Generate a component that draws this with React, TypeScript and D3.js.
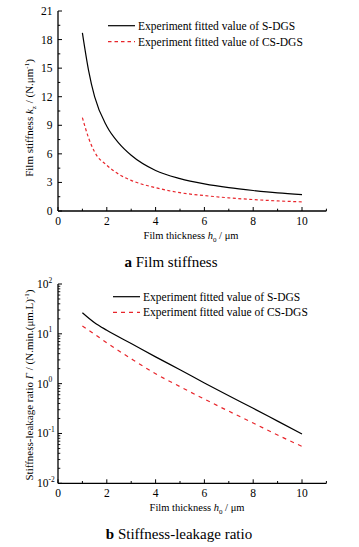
import React from "react";
import * as d3 from "d3";

// Data
const thickness = [1, 1.25, 1.5, 2, 2.5, 3, 4, 5, 6, 7, 8, 9, 10];
const stiffnessS = [18.7, 14.8, 12.0, 8.9, 7.1, 5.85, 4.25, 3.4, 2.85, 2.45, 2.15, 1.9, 1.72];
const stiffnessCS = [9.8, 7.7, 6.2, 4.8, 3.85, 3.22, 2.45, 1.92, 1.62, 1.38, 1.2, 1.06, 0.96];

const thicknessB = [1, 1.5, 2, 3, 4, 5, 6, 7, 8, 9, 10];
const ratioS = [26.5, 16.7, 11.8, 6.4, 3.45, 1.9, 1.03, 0.57, 0.32, 0.177, 0.098];
const ratioCS = [14.4, 9.8, 6.6, 3.16, 1.58, 0.87, 0.49, 0.28, 0.162, 0.093, 0.055];

const xTicks = [0, 2, 4, 6, 8, 10];
const xMinor = [1, 3, 5, 7, 9, 11];
const yTicksA = [0, 3, 6, 9, 12, 15, 18, 21];
const yMinorA = [1.5, 4.5, 7.5, 10.5, 13.5, 16.5, 19.5];
const yExpB = [-2, -1, 0, 1, 2];

const legendLabels = ["Experiment fitted value of S-DGS", "Experiment fitted value of CS-DGS"];

const FONT = "'Liberation Serif', 'Times New Roman', serif";
const RED = "#e8252b";

const left = 58;
const xMax = 11;
const xRight = left + (xMax * (302 - left)) / 10;

export default function App() {
  const x = d3.scaleLinear().domain([0, 10]).range([left, 302]);

  // Chart a
  const yA = d3.scaleLinear().domain([0, 21]).range([211, 11]);
  const lineA = (vals: number[]) =>
    d3
      .line<number>()
      .x((_, i) => x(thickness[i]))
      .y((d) => yA(d))
      .curve(d3.curveMonotoneX)(vals) as string;

  // Chart b
  const yB = d3.scaleLog().domain([0.01, 100]).range([483.3, 284]);
  const lineB = (vals: number[]) =>
    d3
      .line<number>()
      .x((_, i) => x(thicknessB[i]))
      .y((d) => yB(d))
      .curve(d3.curveMonotoneX)(vals) as string;

  const logMinor: number[] = [];
  for (let e = -2; e < 2; e++) for (let k = 2; k <= 9; k++) logMinor.push(k * Math.pow(10, e));

  const axisX = (y0: number, labelY: number) => (
    <g>
      <line x1={left} x2={xRight} y1={y0} y2={y0} stroke="#000" strokeWidth={1.3} />
      {xTicks.map((t) => (
        <g key={"M" + t}>
          <line x1={x(t)} x2={x(t)} y1={y0} y2={y0 - 4} stroke="#000" strokeWidth={1} />
          <text x={x(t)} y={labelY} textAnchor="middle" fontSize={11.5} fontFamily={FONT}>
            {t}
          </text>
        </g>
      ))}
      {xMinor.map((t) => (
        <line key={"m" + t} x1={x(t)} x2={x(t)} y1={y0} y2={y0 - 2.3} stroke="#000" strokeWidth={1} />
      ))}
    </g>
  );

  return (
    <svg
      width={359}
      height={547}
      style={{ position: "absolute", left: 0, top: 0, background: "#fff" }}
      fontFamily={FONT}
    >
      <rect width={359} height={547} fill="#fff" />
      {/* ---------- Chart a ---------- */}
      <line x1={left} x2={left} y1={yA(21)} y2={yA(0)} stroke="#000" strokeWidth={1.3} />
      {yTicksA.map((t) => (
        <g key={"ya" + t}>
          <line x1={left} x2={left + 4} y1={yA(t)} y2={yA(t)} stroke="#000" strokeWidth={1} />
          <text x={52.5} y={yA(t) + 4} textAnchor="end" fontSize={11.5}>
            {t}
          </text>
        </g>
      ))}
      {yMinorA.map((t) => (
        <line key={"yam" + t} x1={left} x2={left + 2.3} y1={yA(t)} y2={yA(t)} stroke="#000" strokeWidth={1} />
      ))}
      {axisX(211, 224.5)}
      <path d={lineA(stiffnessS)} fill="none" stroke="#000" strokeWidth={1.2} />
      <path d={lineA(stiffnessCS)} fill="none" stroke={RED} strokeWidth={1.2} strokeDasharray="3,2.5" />

      {/* legend a */}
      <line x1={108} x2={135} y1={25.7} y2={25.7} stroke="#000" strokeWidth={1.2} />
      <text x={138} y={29.5} fontSize={11.5}>{legendLabels[0]}</text>
      <line x1={108} x2={135} y1={41.7} y2={41.7} stroke={RED} strokeWidth={1.2} strokeDasharray="3.5,3" />
      <text x={138} y={45.5} fontSize={11.5}>{legendLabels[1]}</text>

      {/* axis titles a */}
      <text x={191} y={239} textAnchor="middle" fontSize={10.5}>
        Film thickness <tspan fontStyle="italic">h</tspan>
        <tspan fontSize={7} dy={2.5}>0</tspan>
        <tspan dy={-2.5}> / μm</tspan>
      </text>
      <text transform={`translate(33,${118}) rotate(-90)`} textAnchor="middle" fontSize={11}>
        Film stiffness <tspan fontStyle="italic">k</tspan>
        <tspan fontSize={7} dy={2.5}>z</tspan>
        <tspan dy={-2.5}> / (N.μm</tspan>
        <tspan fontSize={7} dy={-4}>-1</tspan>
        <tspan dy={4}>)</tspan>
      </text>
      <text x={171} y={267} textAnchor="middle" fontSize={15}>
        <tspan fontWeight="bold">a</tspan> Film stiffness
      </text>

      {/* ---------- Chart b ---------- */}
      <line x1={left} x2={left} y1={yB(100)} y2={yB(0.01)} stroke="#000" strokeWidth={1.3} />
      {yExpB.map((e) => (
        <g key={"yb" + e}>
          <line x1={left} x2={left + 4} y1={yB(Math.pow(10, e))} y2={yB(Math.pow(10, e))} stroke="#000" strokeWidth={1} />
          <text x={48.5} y={yB(Math.pow(10, e)) + 4} textAnchor="end" fontSize={11.5}>
            10
          </text>
          <text x={48.5} y={yB(Math.pow(10, e)) - 1.5} textAnchor="start" fontSize={7.5}>
            {e}
          </text>
        </g>
      ))}
      {logMinor.map((t) => (
        <line key={"ybm" + t} x1={left} x2={left + 2.3} y1={yB(t)} y2={yB(t)} stroke="#000" strokeWidth={0.9} />
      ))}
      {axisX(483.3, 497)}
      <path d={lineB(ratioS)} fill="none" stroke="#000" strokeWidth={1.2} />
      <path d={lineB(ratioCS)} fill="none" stroke={RED} strokeWidth={1.2} strokeDasharray="4,4.5" />

      {/* legend b */}
      <line x1={113} x2={140} y1={296.7} y2={296.7} stroke="#000" strokeWidth={1.2} />
      <text x={143} y={300.5} fontSize={11.5}>{legendLabels[0]}</text>
      <line x1={113} x2={140} y1={312.3} y2={312.3} stroke={RED} strokeWidth={1.2} strokeDasharray="4,4" />
      <text x={143} y={316.1} fontSize={11.5}>{legendLabels[1]}</text>

      {/* axis titles b */}
      <text x={197} y={511} textAnchor="middle" fontSize={10.5}>
        Film thickness <tspan fontStyle="italic">h</tspan>
        <tspan fontSize={7} dy={2.5}>0</tspan>
        <tspan dy={-2.5}> / μm</tspan>
      </text>
      <text transform={`translate(33,${385}) rotate(-90)`} textAnchor="middle" fontSize={11}>
        Stiffness-leakage ratio <tspan fontStyle="italic">Γ</tspan>
        <tspan> / (N.min.(μm.L)</tspan>
        <tspan fontSize={7} dy={-4}>-1</tspan>
        <tspan dy={4}>)</tspan>
      </text>
      <text x={179} y={539} textAnchor="middle" fontSize={15}>
        <tspan fontWeight="bold">b</tspan> Stiffness-leakage ratio
      </text>
    </svg>
  );
}
